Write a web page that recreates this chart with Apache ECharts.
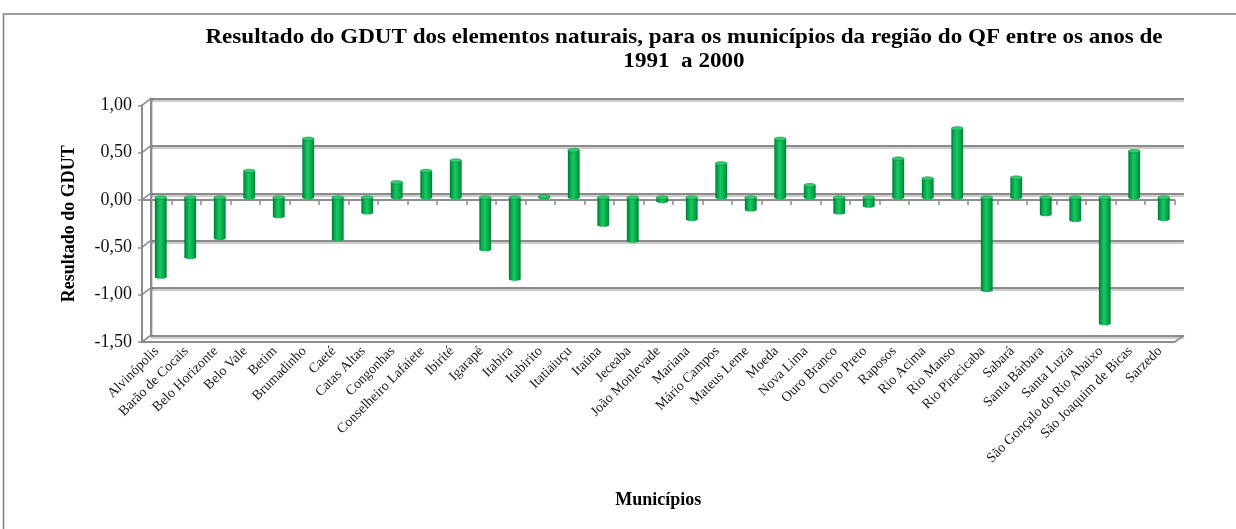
<!DOCTYPE html>
<html>
<head>
<meta charset="utf-8">
<script src="https://cdn.jsdelivr.net/npm/echarts@6/dist/echarts.min.js"></script>
<style>
  html, body { margin: 0; padding: 0; background: #fff; }
  #chart { width: 1236px; height: 529px; }
</style>
</head>
<body>
<div id="chart"></div>
<script>
// Municípios da região do QF
const categories = [
  'Alvinópolis', 'Barão de Cocais', 'Belo Horizonte', 'Belo Vale', 'Betim',
  'Brumadinho', 'Caeté', 'Catas Altas', 'Congonhas', 'Conselheiro Lafaiete',
  'Ibirité', 'Igarapé', 'Itabira', 'Itabirito', 'Itatiaiuçu', 'Itaúna',
  'Jeceaba', 'João Monlevade', 'Mariana', 'Mário Campos', 'Mateus Leme',
  'Moeda', 'Nova Lima', 'Ouro Branco', 'Ouro Preto', 'Raposos', 'Rio Acima',
  'Rio Manso', 'Rio Piracicaba', 'Sabará', 'Santa Bárbara', 'Santa Luzia',
  'São Gonçalo do Rio Abaixo', 'São Joaquim de Bicas', 'Sarzedo'
];

// Resultado do GDUT (1991 a 2000)
const gdut = [
  -0.84, -0.63, -0.43, 0.28, -0.20,
  0.62, -0.44, -0.16, 0.16, 0.28,
  0.39, -0.55, -0.86, 0.01, 0.50, -0.29,
  -0.46, -0.04, -0.23, 0.36, -0.13,
  0.62, 0.13, -0.16, -0.09, 0.41, 0.20,
  0.73, -0.98, 0.21, -0.18, -0.24,
  -1.33, 0.49, -0.23
];

// Value axis range and step
const yMin = -1.5;
const yMax = 1.0;
const yStep = 0.5;
const yTicks = [-1.5, -1.0, -0.5, 0.0, 0.5, 1.0];

const titleLines = [
  'Resultado do GDUT dos elementos naturais, para os municípios da região do QF entre os anos de',
  '1991  a 2000'
];
const yName = 'Resultado do GDUT';
const xName = 'Municípios';

// Pseudo-3D layout: front plane (axes), middle plane (cylinders), back wall (gridlines)
const FRONT = { left: 142, right: 61.5, top: 105.3, bottom: 187 };
const MID   = { left: 146, right: 57.5, top: 102.8, bottom: 189.5 };
const BACK  = { left: 150.5, right: 52, top: 98.6, bottom: 193.6 };

const SERIF = '"Liberation Serif", "Times New Roman", "DejaVu Serif", serif';
const LINE = '#8c8c8c';

const chart = echarts.init(document.getElementById('chart'), null, { renderer: 'canvas' });

function fmt(v) {
  return v.toFixed(2).replace('.', ',');
}

const barGrad = new echarts.graphic.LinearGradient(0, 0, 1, 0, [
  { offset: 0, color: '#00762f' },
  { offset: 0.18, color: '#00a546' },
  { offset: 0.45, color: '#1cc862' },
  { offset: 0.75, color: '#00ac4a' },
  { offset: 1, color: '#007f36' }
]);

function renderCylinder(params, api) {
  const idx = api.value(0);
  const v = api.value(1);
  const p0 = api.coord([idx, 0]);
  const p1 = api.coord([idx, v]);
  const w = api.size([1, 0])[0] * 0.4;
  const hw = w / 2;
  const ry = 1.8;
  const cx = p0[0];
  const yTop = Math.min(p0[1], p1[1]);
  const yBot = Math.max(p0[1], p1[1]);
  return {
    type: 'group',
    children: [
      {
        type: 'circle',
        shape: { cx: 0, cy: 0, r: hw },
        x: cx, y: yBot, scaleY: ry / hw,
        style: { fill: barGrad }
      },
      {
        type: 'rect',
        shape: { x: cx - hw, y: yTop, width: w, height: yBot - yTop },
        style: { fill: barGrad }
      },
      {
        type: 'circle',
        shape: { cx: 0, cy: 0, r: hw },
        x: cx, y: yTop, scaleY: ry / hw,
        style: { fill: '#35cc6e', stroke: '#00873b', lineWidth: 0.8, strokeNoScale: true }
      }
    ]
  };
}

const option = {
  backgroundColor: '#ffffff',
  animation: false,
  grid: [
    Object.assign({ containLabel: false }, FRONT),
    Object.assign({ containLabel: false }, MID),
    Object.assign({ containLabel: false }, BACK)
  ],
  xAxis: [
    // front floor edge with the category labels
    {
      type: 'category', gridIndex: 0, data: categories, position: 'bottom',
      axisLine: { onZero: false, show: true, lineStyle: { color: LINE, width: 2 } },
      axisTick: { show: false },
      axisLabel: {
        interval: 0, rotate: 45, margin: 7,
        fontFamily: SERIF, fontSize: 14, color: '#1a1a1a'
      },
      name: xName,
      nameLocation: 'middle',
      nameGap: 149,
      nameTextStyle: { fontFamily: SERIF, fontSize: 18, fontWeight: 'bold', color: '#000' }
    },
    // front zero line with category ticks
    {
      type: 'category', gridIndex: 0, data: categories, position: 'bottom',
      axisLine: { onZero: true, show: true, lineStyle: { color: LINE, width: 2 } },
      axisTick: { show: true, interval: 0, length: 5, lineStyle: { color: LINE, width: 1.5 } },
      axisLabel: { show: false }
    },
    { type: 'category', gridIndex: 1, data: categories, show: false },
    { type: 'category', gridIndex: 2, data: categories, show: false }
  ],
  yAxis: [
    {
      type: 'value', gridIndex: 0, min: yMin, max: yMax, interval: yStep,
      axisLine: { show: true, lineStyle: { color: LINE, width: 2 } },
      axisTick: { show: true, length: 4, lineStyle: { color: LINE, width: 1.5 } },
      splitLine: { show: false },
      axisLabel: {
        margin: 10, fontFamily: SERIF, fontSize: 18, color: '#111',
        formatter: fmt
      },
      name: yName,
      nameLocation: 'middle',
      nameRotate: 90,
      nameGap: 64,
      nameTextStyle: { fontFamily: SERIF, fontSize: 18, fontWeight: 'bold', color: '#000' }
    },
    { type: 'value', gridIndex: 1, min: yMin, max: yMax, interval: yStep, show: false },
    {
      type: 'value', gridIndex: 2, min: yMin, max: yMax, interval: yStep,
      axisLine: { show: true, lineStyle: { color: LINE, width: 2, shadowColor: 'rgba(0,0,0,0.18)', shadowOffsetX: 1, shadowBlur: 1 } },
      axisTick: { show: false },
      axisLabel: { show: false },
      splitLine: {
        show: true,
        lineStyle: { color: LINE, width: 2, shadowColor: 'rgba(0,0,0,0.22)', shadowOffsetY: 2, shadowBlur: 1 }
      }
    }
  ],
  series: [
    {
      type: 'custom',
      xAxisIndex: 2,
      yAxisIndex: 1,
      renderItem: renderCylinder,
      encode: { x: 0, y: 1 },
      data: gdut.map((v, i) => [i, v]),
      z: 5
    }
  ]
};

chart.setOption(option);

// Title, side wall, floor and frame lines joining the front axis to the back wall
function addStructure() {
  const W = chart.getWidth();
  const H = chart.getHeight();
  const frontX = FRONT.left;
  const backX = BACK.left;
  const frontRight = W - FRONT.right;
  const backRight = W - BACK.right;
  const els = [];
  titleLines.forEach(function (t, i) {
    els.push({
      type: 'text',
      x: 684, y: 38 + i * 24,
      scaleX: 1.1,
      style: {
        text: t,
        font: 'bold 21px ' + SERIF,
        fill: '#000',
        align: 'center',
        verticalAlign: 'middle'
      },
      z: 10
    });
  });
  yTicks.forEach(function (v) {
    const yf = chart.convertToPixel({ yAxisIndex: 0 }, v);
    const yb = chart.convertToPixel({ yAxisIndex: 2 }, v);
    els.push({
      type: 'line',
      shape: { x1: frontX, y1: yf, x2: backX, y2: yb },
      style: { stroke: LINE, lineWidth: 1.6 },
      z: 3
    });
  });
  const yfMin = chart.convertToPixel({ yAxisIndex: 0 }, yMin);
  const ybMin = chart.convertToPixel({ yAxisIndex: 2 }, yMin);
  els.push({
    type: 'line',
    shape: { x1: frontRight, y1: yfMin, x2: backRight, y2: ybMin },
    style: { stroke: LINE, lineWidth: 1.6 },
    z: 3
  });
  // outer frame (top and left edges)
  els.push({
    type: 'polyline',
    shape: { points: [[3.5, H], [3.5, 14], [W, 14]] },
    style: { stroke: '#7f7f7f', lineWidth: 1.5, fill: null },
    z: 3
  });
  chart.setOption({ graphic: els });
}
addStructure();
</script>
</body>
</html>
